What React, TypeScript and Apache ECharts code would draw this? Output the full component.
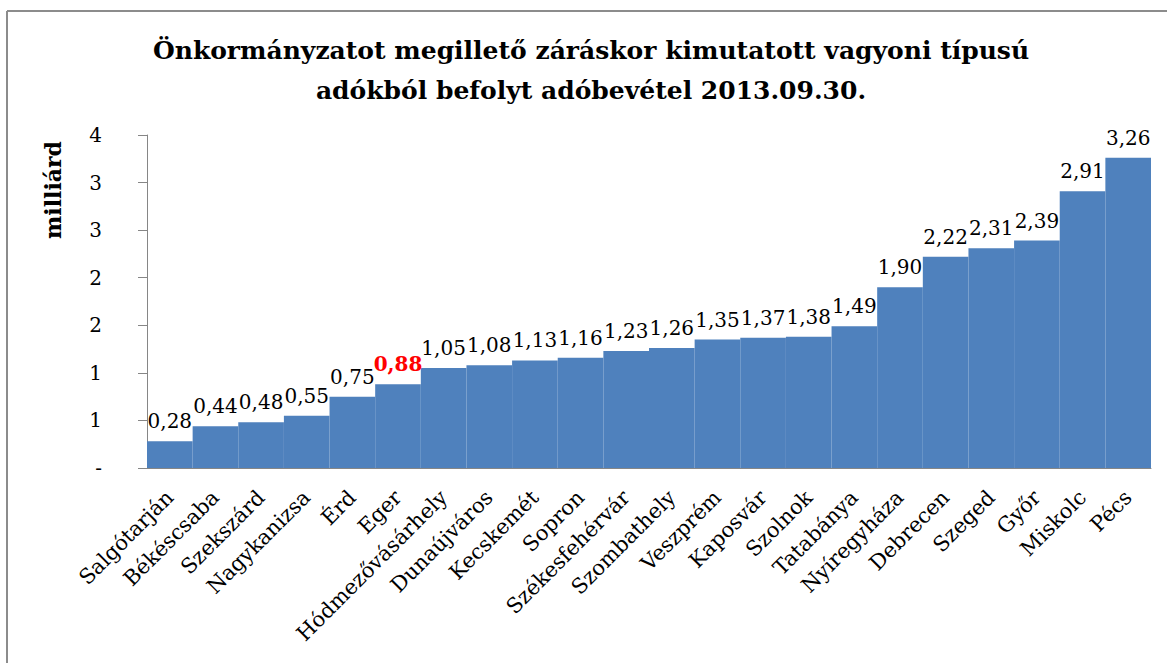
import React, { useEffect, useRef } from "react";
import * as echarts from "echarts";

const categories = [
  "Salgótarján", "Békéscsaba", "Szekszárd", "Nagykanizsa", "Érd", "Eger",
  "Hódmezővásárhely", "Dunaújváros", "Kecskemét", "Sopron", "Székesfehérvár",
  "Szombathely", "Veszprém", "Kaposvár", "Szolnok", "Tatabánya", "Nyíregyháza",
  "Debrecen", "Szeged", "Győr", "Miskolc", "Pécs",
];
const values = [
  0.28, 0.44, 0.48, 0.55, 0.75, 0.88, 1.05, 1.08, 1.13, 1.16, 1.23, 1.26,
  1.35, 1.37, 1.38, 1.49, 1.90, 2.22, 2.31, 2.39, 2.91, 3.26,
];
const highlighted = "Eger";
const titleLines = [
  "Önkormányzatot megillető záráskor kimutatott vagyoni típusú",
  "adókból befolyt adóbevétel 2013.09.30.",
];
const yAxisName = "milliárd";
const yMin = 0;
const yMax = 3.5;
const yInterval = 0.5;

const SERIF = "'DejaVu Serif', serif";

export default function App() {
  const ref = useRef<HTMLDivElement>(null);
  useEffect(() => {
    if (!ref.current) return;
    const chart = echarts.init(ref.current, undefined, { renderer: "svg" });
    const data = values.map((v, i) =>
      categories[i] === highlighted
        ? { value: v, label: { color: "#FF0000", fontWeight: "bold" } }
        : v
    );
    chart.setOption({
      animation: false,
      backgroundColor: "#ffffff",
      grid: { left: 147, right: 16, top: 135, bottom: 195, containLabel: false },
      graphic: [
        { type: "line", shape: { x1: 7, y1: 11, x2: 1167, y2: 11 }, style: { stroke: "#8c8c8c", lineWidth: 2 } },
        { type: "line", shape: { x1: 7, y1: 11, x2: 7, y2: 663 }, style: { stroke: "#8c8c8c", lineWidth: 2 } },
        {
          type: "text", x: 591, y: 50,
          style: { text: titleLines[0], font: "bold 25px " + SERIF, fill: "#000", textAlign: "center", textVerticalAlign: "middle" },
        },
        {
          type: "text", x: 591, y: 90,
          style: { text: titleLines[1], font: "bold 25px " + SERIF, fill: "#000", textAlign: "center", textVerticalAlign: "middle" },
        },
        {
          type: "text", x: 53, y: 190, rotation: Math.PI / 2,
          style: { text: yAxisName, font: "bold 22px " + SERIF, fill: "#000", textAlign: "center", textVerticalAlign: "middle" },
        },
      ],
      xAxis: {
        type: "category",
        data: categories,
        axisLine: { show: true, lineStyle: { color: "#868686", width: 1 } },
        axisTick: { show: false },
        axisLabel: {
          rotate: 45,
          interval: 0,
          margin: 26,
          color: "#000",
          fontFamily: SERIF,
          fontSize: 21,
        },
      },
      yAxis: {
        type: "value",
        min: yMin,
        max: yMax,
        interval: yInterval,
        splitLine: { show: false },
        axisLine: { show: true, lineStyle: { color: "#868686", width: 1 } },
        axisTick: { show: true, inside: false, length: 9, lineStyle: { color: "#868686" } },
        axisLabel: {
          margin: 45,
          color: "#000",
          fontFamily: SERIF,
          fontSize: 20,
          formatter: (v: number) => (v === 0 ? "-" : String(Math.round(v))),
        },
      },
      series: [
        {
          type: "bar",
          data,
          barCategoryGap: "0%",
          barGap: "0%",
          itemStyle: { color: "#4F81BD" },
          label: {
            show: true,
            position: "top",
            distance: 10,
            color: "#000",
            fontFamily: SERIF,
            fontSize: 20,
            formatter: (p: any) => Number(p.value).toFixed(2).replace(".", ","),
          },
        },
      ],
    });
    return () => chart.dispose();
  }, []);
  return (
    <div
      ref={ref}
      style={{ position: "fixed", left: 0, top: 0, width: 1167, height: 663 }}
    />
  );
}
